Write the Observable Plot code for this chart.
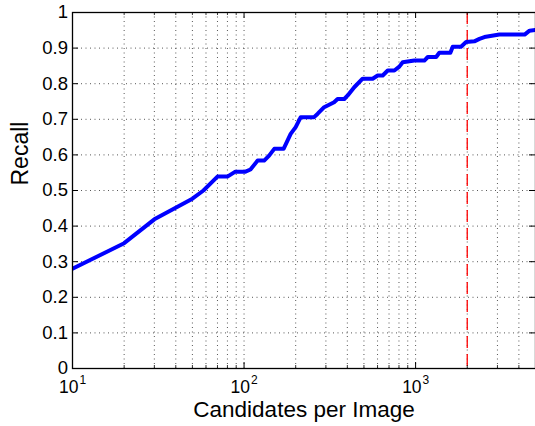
<!DOCTYPE html>
<html><head><meta charset="utf-8">
<script src="https://cdn.jsdelivr.net/npm/d3@7"></script>
<script src="https://cdn.jsdelivr.net/npm/@observablehq/plot@0.6"></script>
<style>body{margin:0;background:#fff}</style>
</head><body><div id="chart"></div>
<script>
const candidates = [10, 20, 30, 50, 58, 70, 80, 89, 102, 109, 120, 131, 140, 150, 170, 187, 200, 214, 256, 268, 293, 335, 351, 384, 402, 439, 491, 562, 601, 643, 688, 752, 804, 841, 984, 1125, 1178, 1318, 1375, 1595, 1646, 1840, 1970, 2200, 2357, 2518, 3080, 4320, 4617, 5000];
const recall = [0.28, 0.352, 0.419, 0.477, 0.50, 0.539, 0.539, 0.553, 0.553, 0.559, 0.584, 0.584, 0.598, 0.617, 0.617, 0.659, 0.678, 0.706, 0.706, 0.715, 0.734, 0.748, 0.757, 0.757, 0.767, 0.790, 0.814, 0.814, 0.823, 0.823, 0.837, 0.837, 0.848, 0.860, 0.865, 0.865, 0.875, 0.875, 0.887, 0.887, 0.904, 0.904, 0.917, 0.919, 0.926, 0.931, 0.938, 0.938, 0.949, 0.951];
const thresholdX = [2000];
const xMajorTicks = [10, 100, 1000];
const xMajorExp = ["1", "2", "3"];
const xMinorTicks = [20, 30, 40, 50, 60, 70, 80, 90, 200, 300, 400, 500, 600, 700, 800, 900, 2000, 3000, 4000];
const yTicks = [0, 0.1, 0.2, 0.3, 0.4, 0.5, 0.6, 0.7, 0.8, 0.9, 1];
const yTickLabels = ["0", "0.1", "0.2", "0.3", "0.4", "0.5", "0.6", "0.7", "0.8", "0.9", "1"];
const xDomain = [10, 5000];
const yDomain = [0, 1];
const xLabel = "Candidates per Image";
const yLabel = "Recall";

const W = 535, H = 426, mL = 72, mR = 0, mT = 12, mB = 58;
const pxPerDecade = (W - mL - mR) / Math.log10(xDomain[1] / xDomain[0]);
const pxPerY = (H - mT - mB) / (yDomain[1] - yDomain[0]);
const kx = (px) => Math.pow(10, px / pxPerDecade);
const ky = (px) => px / pxPerY;

const data = candidates.map((c, i) => ({c, r: recall[i]}));
const xGrid = xMinorTicks.concat(xMajorTicks.filter(d => d > xDomain[0]));
const yGrid = yTicks.filter(v => v > yDomain[0] && v < yDomain[1]);
const gridStyle = {stroke: "#222", strokeWidth: 0.9, strokeDasharray: "1,3.5", strokeOpacity: 0.85};

const chart = Plot.plot({
  width: W, height: H,
  marginLeft: mL, marginRight: mR, marginTop: mT, marginBottom: mB,
  x: {type: "log", domain: xDomain, axis: null},
  y: {domain: yDomain, axis: null},
  style: {fontFamily: "'Liberation Sans', Arial, Helvetica, sans-serif", color: "black", background: "white", overflow: "visible"},
  marks: [
    Plot.ruleX(xGrid, {x: d => d, ...gridStyle}),
    Plot.ruleY(yGrid, {y: d => d, ...gridStyle}),
    Plot.ruleX(thresholdX, {x: d => d, stroke: "#ff0000", strokeWidth: 1.3, strokeDasharray: "12,6"}),
    Plot.line(data, {x: "c", y: "r", stroke: "#0000ff", strokeWidth: 4, strokeLinejoin: "round", clip: true}),
    Plot.frame({stroke: "black", strokeWidth: 1.3}),
    // inward ticks
    Plot.ruleX(xMajorTicks, {x: d => d, y1: yDomain[0], y2: yDomain[0] + ky(6), stroke: "black", strokeWidth: 1}),
    Plot.ruleX(xMajorTicks, {x: d => d, y1: yDomain[1], y2: yDomain[1] - ky(6), stroke: "black", strokeWidth: 1}),
    Plot.ruleX(xMinorTicks, {x: d => d, y1: yDomain[0], y2: yDomain[0] + ky(3), stroke: "black", strokeWidth: 0.8}),
    Plot.ruleX(xMinorTicks, {x: d => d, y1: yDomain[1], y2: yDomain[1] - ky(3), stroke: "black", strokeWidth: 0.8}),
    Plot.ruleY(yTicks, {y: d => d, x1: xDomain[0], x2: xDomain[0] * kx(6), stroke: "black", strokeWidth: 1}),
    Plot.ruleY(yTicks, {y: d => d, x1: xDomain[1], x2: xDomain[1] / kx(6), stroke: "black", strokeWidth: 1}),
    // tick labels
    Plot.text(yTicks, {x: xDomain[0], y: d => d, text: (d, i) => yTickLabels[i], textAnchor: "end", dx: -4.5, fontSize: 18.5}),
    Plot.text(xMajorTicks, {x: d => d, y: yDomain[0], text: () => "10", textAnchor: "end", dx: 6, dy: 19, fontSize: 17.5}),
    Plot.text(xMajorTicks, {x: d => d, y: yDomain[0], text: (d, i) => xMajorExp[i], textAnchor: "start", dx: 7, dy: 12, fontSize: 12}),
    // axis titles
    Plot.text([xLabel], {frameAnchor: "bottom", text: d => d, dy: 48, fontSize: 22.5}),
    Plot.text([yLabel], {frameAnchor: "left", text: d => d, rotate: -90, dx: -52, dy: -5, fontSize: 23})
  ]
});
document.getElementById("chart").appendChild(chart);
</script>
</body></html>
